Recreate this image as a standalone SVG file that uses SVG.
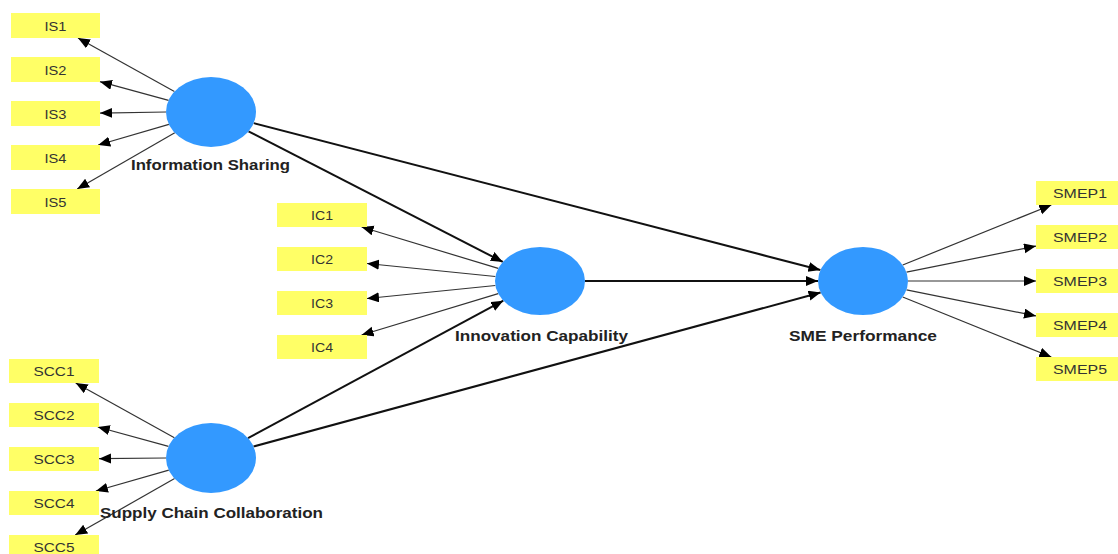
<svg xmlns="http://www.w3.org/2000/svg" width="1118" height="554" viewBox="0 0 1118 554">
<style>
.box{fill:#ffff66;}
.lv{fill:#3399ff;}
.bt{font-family:"Liberation Sans",Arial,sans-serif;font-size:13px;fill:#333;text-anchor:middle;}
.lt{font-family:"Liberation Sans",Arial,sans-serif;font-size:15px;font-weight:bold;fill:#222;text-anchor:middle;}
.m{stroke:#333;stroke-width:1.2;fill:none;marker-end:url(#ah);}
.s{stroke:#111;stroke-width:2;fill:none;marker-end:url(#ah);}
</style>
<defs>
<marker id="ah" markerUnits="userSpaceOnUse" markerWidth="13" markerHeight="11" refX="12" refY="5" orient="auto">
<path d="M0,0 L12,5 L0,10 z" fill="#000"/>
</marker>
</defs>
<rect width="1118" height="554" fill="#fff"/>
<g id="connectors">
<line class="m" x1="174.4" y1="91.6" x2="78" y2="38"/>
<line class="m" x1="168.6" y1="100.4" x2="100" y2="81.7"/>
<line class="m" x1="166" y1="112" x2="100" y2="113.1"/>
<line class="m" x1="168.9" y1="124.3" x2="98.2" y2="145"/>
<line class="m" x1="174.8" y1="132.8" x2="77.2" y2="189"/>
<line class="m" x1="498.2" y1="268.4" x2="361.6" y2="227"/>
<line class="m" x1="495.4" y1="276.5" x2="367" y2="263.5"/>
<line class="m" x1="495.4" y1="285.5" x2="367" y2="298.5"/>
<line class="m" x1="498.2" y1="293.6" x2="361.6" y2="335"/>
<line class="m" x1="174.4" y1="437.7" x2="75.7" y2="383"/>
<line class="m" x1="168.5" y1="446.4" x2="97.8" y2="427"/>
<line class="m" x1="166" y1="458" x2="99" y2="458.7"/>
<line class="m" x1="168.8" y1="470.1" x2="95.9" y2="491"/>
<line class="m" x1="174.6" y1="478.6" x2="75.2" y2="535"/>
<line class="m" x1="902.7" y1="265" x2="1051.3" y2="205"/>
<line class="m" x1="906.5" y1="272.2" x2="1036" y2="246.1"/>
<line class="m" x1="908" y1="281" x2="1036" y2="281"/>
<line class="m" x1="906.5" y1="289.8" x2="1036" y2="315.9"/>
<line class="m" x1="902.7" y1="297" x2="1051.3" y2="357"/>
<line class="s" x1="248.5" y1="131.3" x2="502.8" y2="261.9"/>
<line class="s" x1="253.7" y1="123.1" x2="820.4" y2="270"/>
<line class="s" x1="585" y1="281" x2="818" y2="281"/>
<line class="s" x1="248" y1="438.1" x2="503.3" y2="300.7"/>
<line class="s" x1="253.5" y1="446.5" x2="820.6" y2="292.5"/>
</g>
<g id="IS1"><rect class="box" x="11" y="13" width="89" height="25"/><text class="bt" x="55.5" y="30.5" textLength="22" lengthAdjust="spacingAndGlyphs">IS1</text></g>
<g id="IS2"><rect class="box" x="11" y="57" width="89" height="25"/><text class="bt" x="55.5" y="74.5" textLength="22" lengthAdjust="spacingAndGlyphs">IS2</text></g>
<g id="IS3"><rect class="box" x="11" y="101" width="89" height="25"/><text class="bt" x="55.5" y="118.5" textLength="22" lengthAdjust="spacingAndGlyphs">IS3</text></g>
<g id="IS4"><rect class="box" x="11" y="145" width="89" height="25"/><text class="bt" x="55.5" y="162.5" textLength="22" lengthAdjust="spacingAndGlyphs">IS4</text></g>
<g id="IS5"><rect class="box" x="11" y="189" width="89" height="25"/><text class="bt" x="55.5" y="206.5" textLength="22" lengthAdjust="spacingAndGlyphs">IS5</text></g>
<g id="IC1"><rect class="box" x="277" y="203" width="90" height="24"/><text class="bt" x="322" y="220" textLength="22" lengthAdjust="spacingAndGlyphs">IC1</text></g>
<g id="IC2"><rect class="box" x="277" y="247" width="90" height="24"/><text class="bt" x="322" y="264" textLength="22" lengthAdjust="spacingAndGlyphs">IC2</text></g>
<g id="IC3"><rect class="box" x="277" y="291" width="90" height="24"/><text class="bt" x="322" y="308" textLength="22" lengthAdjust="spacingAndGlyphs">IC3</text></g>
<g id="IC4"><rect class="box" x="277" y="335" width="90" height="24"/><text class="bt" x="322" y="352" textLength="22" lengthAdjust="spacingAndGlyphs">IC4</text></g>
<g id="SCC1"><rect class="box" x="9" y="359" width="90" height="24"/><text class="bt" x="54" y="376" textLength="41" lengthAdjust="spacingAndGlyphs">SCC1</text></g>
<g id="SCC2"><rect class="box" x="9" y="403" width="90" height="24"/><text class="bt" x="54" y="420" textLength="41" lengthAdjust="spacingAndGlyphs">SCC2</text></g>
<g id="SCC3"><rect class="box" x="9" y="447" width="90" height="24"/><text class="bt" x="54" y="464" textLength="41" lengthAdjust="spacingAndGlyphs">SCC3</text></g>
<g id="SCC4"><rect class="box" x="9" y="491" width="90" height="24"/><text class="bt" x="54" y="508" textLength="41" lengthAdjust="spacingAndGlyphs">SCC4</text></g>
<g id="SCC5"><rect class="box" x="9" y="535" width="90" height="24"/><text class="bt" x="54" y="552" textLength="41" lengthAdjust="spacingAndGlyphs">SCC5</text></g>
<g id="SMEP1"><rect class="box" x="1036" y="181" width="90" height="24"/><text class="bt" x="1080" y="198" textLength="54" lengthAdjust="spacingAndGlyphs">SMEP1</text></g>
<g id="SMEP2"><rect class="box" x="1036" y="225" width="90" height="24"/><text class="bt" x="1080" y="242" textLength="54" lengthAdjust="spacingAndGlyphs">SMEP2</text></g>
<g id="SMEP3"><rect class="box" x="1036" y="269" width="90" height="24"/><text class="bt" x="1080" y="286" textLength="54" lengthAdjust="spacingAndGlyphs">SMEP3</text></g>
<g id="SMEP4"><rect class="box" x="1036" y="313" width="90" height="24"/><text class="bt" x="1080" y="330" textLength="54" lengthAdjust="spacingAndGlyphs">SMEP4</text></g>
<g id="SMEP5"><rect class="box" x="1036" y="357" width="90" height="24"/><text class="bt" x="1080" y="374" textLength="54" lengthAdjust="spacingAndGlyphs">SMEP5</text></g>
<g id="InformationSharing"><ellipse class="lv" cx="211" cy="112" rx="45" ry="35"/><text class="lt" x="210.5" y="170" textLength="159" lengthAdjust="spacingAndGlyphs">Information Sharing</text></g>
<g id="InnovationCapability"><ellipse class="lv" cx="540" cy="281" rx="45" ry="34"/><text class="lt" x="541.5" y="341" textLength="173" lengthAdjust="spacingAndGlyphs">Innovation Capability</text></g>
<g id="SupplyChainCollaboration"><ellipse class="lv" cx="211" cy="458" rx="45" ry="35"/><text class="lt" x="211.5" y="518" textLength="223" lengthAdjust="spacingAndGlyphs">Supply Chain Collaboration</text></g>
<g id="SMEPerformance"><ellipse class="lv" cx="863" cy="281" rx="45" ry="34"/><text class="lt" x="863" y="341" textLength="148" lengthAdjust="spacingAndGlyphs">SME Performance</text></g>
</svg>
